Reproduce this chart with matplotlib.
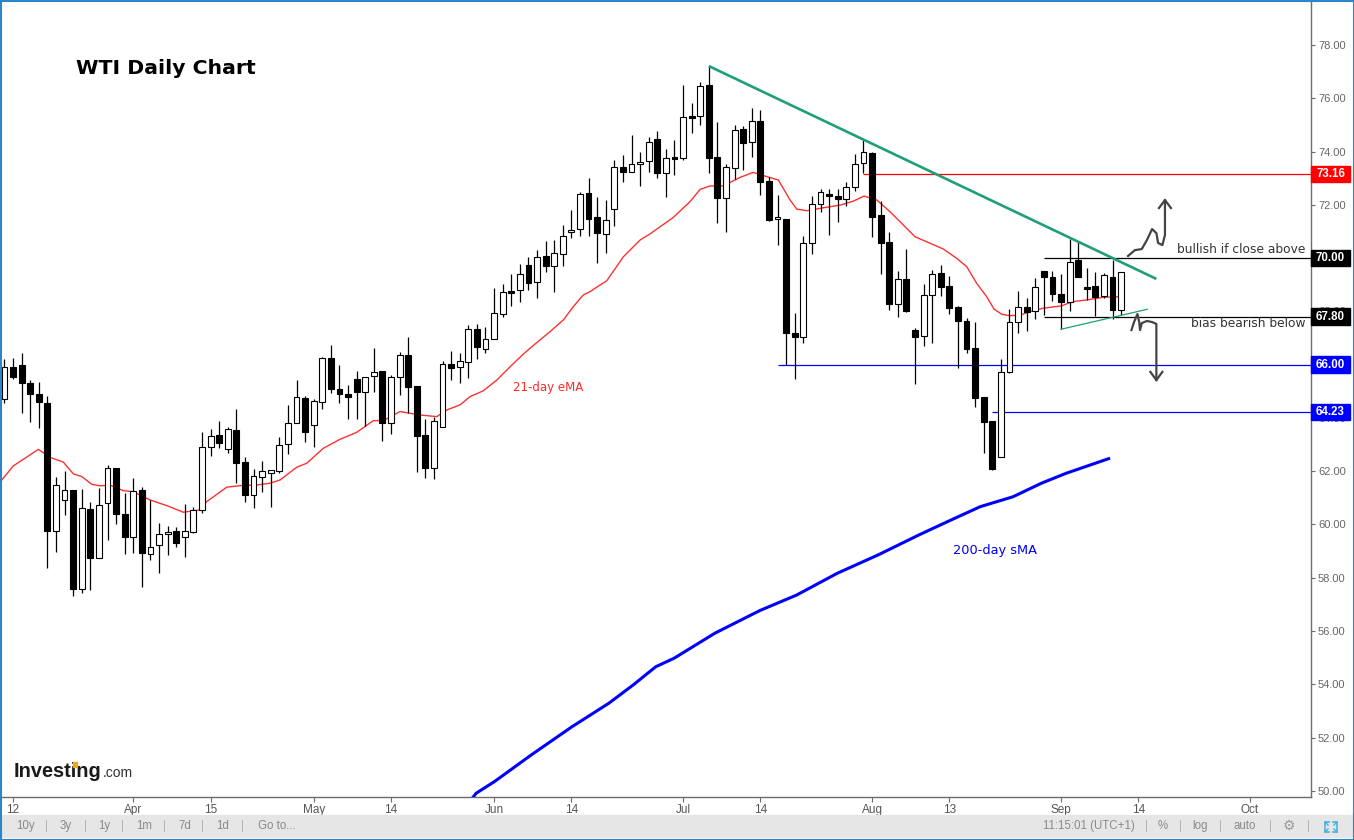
import numpy as np
import pandas as pd
import matplotlib
matplotlib.use("Agg")
import matplotlib.pyplot as plt
from matplotlib.patches import Rectangle
from matplotlib.lines import Line2D

# ---------------- data ----------------
opens = [64.71, 65.90, 65.99, 65.33, 64.90, 64.57, 59.75, 60.91, 61.29, 57.57,
         60.58, 58.76, 60.80, 62.11, 60.38, 59.54, 61.28, 58.88, 59.23, 59.63,
         59.76, 59.54, 59.73, 60.55, 62.90, 63.35, 62.82, 63.55, 62.34, 61.10,
         61.77, 61.92, 62.00, 63.01, 63.80, 64.74, 63.73, 64.59, 66.24, 65.08,
         64.90, 65.46, 64.96, 65.56, 65.75, 63.82, 65.55, 66.36, 65.20, 63.36,
         62.11, 63.65, 66.02, 65.93, 66.11, 67.33, 66.58, 66.95, 67.89, 68.74,
         68.79, 69.73, 69.12, 70.08, 69.72, 70.14, 70.97, 71.08, 72.43, 71.56,
         70.89, 71.83, 73.41, 73.22, 73.52, 73.65, 74.46, 73.18, 73.78, 73.77,
         75.32, 75.35, 76.50, 73.78, 72.27, 73.37, 74.85, 74.35, 75.15, 72.90,
         71.46, 71.46, 67.18, 67.05, 70.56, 72.02, 72.41, 72.33, 72.23, 72.66,
         73.56, 73.94, 71.62, 70.59, 68.27, 69.21, 67.30, 67.09, 68.61, 69.43,
         68.95, 68.15, 67.64, 66.62, 64.78, 63.89, 62.52, 65.74, 67.59, 68.16,
         68.03, 69.53, 69.30, 68.65, 68.34, 69.93, 68.91, 68.95, 68.58, 69.30,
         68.05]
highs = [66.21, 66.24, 66.43, 65.43, 65.34, 64.83, 61.77, 62.01, 61.29, 61.33,
         60.83, 61.38, 62.24, 62.11, 61.17, 61.73, 61.42, 60.92, 60.05, 59.95,
         59.92, 60.77, 60.65, 63.46, 63.59, 63.89, 63.65, 64.34, 62.55, 62.09,
         62.39, 62.05, 63.29, 64.49, 65.43, 64.83, 64.70, 66.30, 66.74, 65.99,
         65.24, 65.76, 65.55, 66.64, 65.77, 65.61, 66.47, 67.03, 65.20, 63.95,
         64.05, 66.14, 66.51, 66.45, 67.49, 67.53, 67.40, 68.87, 69.02, 69.40,
         69.78, 70.03, 70.31, 70.64, 70.68, 71.24, 71.81, 72.49, 73.00, 72.31,
         72.18, 73.68, 73.87, 74.62, 74.00, 74.54, 74.77, 74.10, 74.43, 76.50,
         75.81, 76.60, 77.21, 75.12, 73.52, 75.00, 74.97, 75.65, 75.56, 73.06,
         72.37, 71.46, 67.95, 70.83, 72.34, 72.58, 72.58, 72.58, 72.87, 73.91,
         74.46, 74.00, 72.14, 70.97, 69.52, 70.34, 67.37, 69.02, 69.55, 69.74,
         69.33, 68.20, 67.74, 67.60, 64.78, 63.89, 66.20, 68.08, 68.77, 68.50,
         69.27, 69.53, 69.52, 69.39, 70.72, 70.65, 69.62, 69.49, 69.45, 69.93,
         69.49]
lows = [64.56, 65.45, 64.20, 63.86, 63.64, 58.38, 58.98, 60.36, 57.30, 57.44,
        57.54, 58.73, 59.42, 60.01, 58.88, 58.92, 57.67, 58.67, 58.17, 58.86,
        59.17, 58.79, 59.69, 60.45, 62.57, 62.86, 62.67, 61.55, 60.86, 60.61,
        61.23, 60.67, 61.92, 62.65, 63.80, 63.11, 62.92, 64.33, 64.93, 64.55,
        63.95, 63.96, 63.71, 64.99, 63.14, 63.39, 64.86, 64.18, 61.98, 61.74,
        61.70, 63.65, 65.43, 65.30, 65.51, 66.20, 66.45, 66.95, 67.80, 68.21,
        68.36, 68.80, 68.52, 69.49, 68.74, 69.72, 70.77, 70.84, 70.84, 69.83,
        70.20, 71.22, 72.87, 73.22, 72.72, 73.24, 73.00, 72.31, 73.12, 73.68,
        74.71, 75.00, 73.21, 71.33, 70.99, 72.96, 73.31, 73.81, 72.37, 71.39,
        70.49, 65.98, 65.45, 66.83, 70.15, 71.74, 70.87, 71.37, 71.96, 72.52,
        73.18, 70.80, 69.40, 68.05, 67.80, 67.99, 65.28, 66.71, 66.83, 68.58,
        67.90, 65.87, 66.43, 64.42, 62.67, 62.05, 62.52, 65.68, 67.18, 67.28,
        67.72, 67.87, 68.39, 67.33, 68.03, 69.28, 68.43, 67.83, 68.49, 67.72,
        67.87]
closes = [65.91, 65.55, 65.33, 64.89, 64.59, 59.77, 61.47, 61.28, 57.57, 60.61,
          58.76, 60.72, 62.11, 60.38, 59.54, 61.27, 58.92, 59.17, 59.63, 59.73,
          59.32, 59.77, 60.55, 62.90, 63.33, 63.07, 63.58, 62.30, 61.10, 61.82,
          62.00, 62.05, 62.97, 63.80, 64.78, 63.46, 64.64, 66.24, 65.10, 64.89,
          64.80, 64.96, 65.53, 65.71, 63.82, 65.53, 66.36, 65.17, 63.33, 62.11,
          63.89, 66.02, 65.89, 66.14, 67.33, 66.65, 66.95, 67.93, 68.74, 68.70,
          69.39, 69.08, 70.03, 69.72, 70.18, 70.82, 71.06, 72.40, 71.47, 70.93,
          71.42, 73.43, 73.22, 73.52, 73.60, 74.35, 73.18, 73.75, 73.73, 75.29,
          75.27, 76.45, 73.77, 72.27, 73.41, 74.81, 74.33, 75.15, 72.87, 71.43,
          71.53, 67.20, 67.05, 70.56, 72.02, 72.47, 72.34, 72.23, 72.66, 73.52,
          73.97, 71.56, 70.58, 68.27, 69.21, 68.02, 67.05, 68.62, 69.40, 68.93,
          68.12, 67.65, 66.60, 64.74, 63.86, 62.07, 65.74, 67.61, 68.18, 67.99,
          68.91, 69.30, 68.64, 68.36, 69.87, 69.28, 68.84, 68.55, 69.36, 68.05,
          69.49]

# 21-day EMA (bar index, price)
ema_x = [-0.31, 1.04, 3.95, 5.31, 6.86, 8.02, 9.0, 10.16, 11.13, 12.29, 13.84, 15.0,
         16.95, 18.89, 20.83, 22.77, 23.55, 25.88, 27.43, 29.37, 30.92, 32.08, 34.03,
         35.19, 37.12, 39.07, 41.01, 42.95, 44.11, 46.05, 48.38, 50.33, 51.49, 53.04,
         54.2, 55.75, 57.31, 58.86, 60.41, 61.97, 63.52, 65.07, 66.23, 67.39, 68.17,
         69.33, 70.12, 72.05, 74.0, 75.16, 77.87, 79.81, 80.98, 82.14, 83.69, 85.63,
         87.18, 88.74, 90.1, 91.46, 92.24, 93.41, 95.33, 97.28, 98.83, 100.07, 101.55,
         103.1, 104.65, 106.01, 107.75, 109.3, 110.86, 112.02, 113.19, 114.35, 115.2,
         116.1, 117.07, 118.23, 119.39, 120.94, 123.08, 124.25, 126.38, 127.93, 129.67]
ema_y = [61.67, 62.20, 62.82, 62.52, 62.34, 61.90, 61.80, 61.51, 61.45, 61.48, 61.27, 61.23,
         60.92, 60.71, 60.46, 60.55, 60.86, 61.40, 61.46, 61.48, 61.55, 61.67, 62.15,
         62.30, 62.86, 63.20, 63.46, 63.90, 63.90, 64.24, 64.11, 64.05, 64.30, 64.49,
         64.80, 65.02, 65.42, 65.92, 66.40, 66.83, 67.24, 67.68, 68.18, 68.62, 68.74,
         68.99, 69.15, 70.05, 70.68, 70.91, 71.53, 72.12, 72.58, 72.71, 72.71, 73.03,
         73.22, 73.06, 72.93, 72.18, 71.84, 71.78, 71.89, 71.99, 72.14, 72.33, 72.18,
         71.74, 71.24, 70.80, 70.56, 70.34, 69.99, 69.68, 69.05, 68.55, 68.09,
         67.89, 67.84, 67.86, 67.99, 68.12, 68.21, 68.36, 68.45, 68.53, 68.55]

# 200-day SMA
sma_x = [54.4, 54.91, 57.05, 61.33, 66.08, 70.36, 73.21, 75.82, 77.96, 82.71, 87.94, 92.21,
         96.96, 101.72, 106.47, 109.80, 113.60, 117.40, 120.72, 123.57, 128.71]
sma_y = [49.70, 49.91, 50.35, 51.35, 52.41, 53.29, 53.98, 54.66, 54.98, 55.92, 56.77, 57.35,
         58.17, 58.86, 59.61, 60.11, 60.67, 61.04, 61.55, 61.92, 62.49]

tick_dates = ["2021-03-12", "2021-04-01", "2021-04-15", "2021-05-03", "2021-05-14",
              "2021-06-01", "2021-06-14", "2021-07-01", "2021-07-14", "2021-08-02",
              "2021-08-13", "2021-09-01", "2021-09-14", "2021-10-01"]
tick_labels = ["12", "Apr", "15", "May", "14", "Jun", "14", "Jul", "14", "Aug",
               "13", "Sep", "14", "Oct"]

level_values = [73.16, 70.00, 67.80, 66.00, 64.23]
level_colors = ["#ff0000", "#000000", "#000000", "#0000ff", "#0000ff"]
level_start = [100, 121, 121, 90, 115]

trend_x = [82.0, 134.1]
trend_y = [77.21, 69.22]
lower_x = [123.0, 133.05]
lower_y = [67.33, 68.08]

up_arrow_x = [130.8, 131.6, 132.4, 133.0, 133.6, 134.1, 134.3, 134.8, 135.1, 135.1]
up_arrow_y = [70.08, 70.30, 70.34, 70.68, 71.09, 70.94, 70.57, 70.49, 70.87, 72.18]
dn_arrow_x = [131.2, 131.5, 131.9, 132.1, 132.2, 132.4, 133.0, 133.6, 134.1, 134.1]
dn_arrow_y = [67.30, 67.60, 67.90, 67.60, 67.30, 67.56, 67.64, 67.60, 67.53, 65.42]

# ---------------- axis dates ----------------
all_dates = pd.bdate_range("2021-03-11", "2021-10-15")
all_dates = all_dates[all_dates != pd.Timestamp("2021-04-02")]
pos = {d: i for i, d in enumerate(all_dates)}
tick_pos = [pos[pd.Timestamp(d)] for d in tick_dates]

W, H = 1354, 840
fig = plt.figure(figsize=(W / 100, H / 100), dpi=100)
fig.patch.set_facecolor("white")
ax = fig.add_axes([1 / W, 43 / H, 1310 / W, 797 / H])
ax.set_xlim(-0.40, 152.1)
ax.set_ylim(49.77, 79.69)

for s in ["left", "top"]:
    ax.spines[s].set_visible(False)
for s in ["right", "bottom"]:
    ax.spines[s].set_color("#6d6d6d")
    ax.spines[s].set_linewidth(1.0)

ax.yaxis.tick_right()
ax.set_yticks(np.arange(50, 79, 2))
ax.set_yticklabels([f"{v:.2f}" for v in np.arange(50, 79, 2)])
ax.tick_params(axis="y", direction="out", length=3, width=0.8, color="#6d6d6d",
               labelsize=8, labelcolor="#666666", pad=2)
ax.set_xticks(tick_pos)
ax.set_xticklabels(tick_labels)
ax.tick_params(axis="x", direction="out", length=3.5, width=0.8, color="#6d6d6d",
               labelsize=8.5, labelcolor="#555555", pad=1.5)
for lab in ax.get_xticklabels() + ax.get_yticklabels():
    lab.set_fontfamily("Liberation Sans")

# ---------------- candles ----------------
n = len(closes)
xs = np.arange(n)
o = np.array(opens); c = np.array(closes); h = np.array(highs); l = np.array(lows)
ax.vlines(xs, l, h, color="black", lw=0.9, zorder=3)
bottoms = np.minimum(o, c)
heights = np.maximum(np.abs(c - o), 0.05)
faces = ["white" if cc >= oo else "black" for oo, cc in zip(o, c)]
ax.bar(xs, heights, bottom=bottoms, width=0.68, color=faces, edgecolor="black",
       linewidth=0.8, zorder=4)

# ---------------- moving averages ----------------
ax.plot(ema_x, ema_y, color="#ff3030", lw=1.0, zorder=2.6)
ax.plot(sma_x, sma_y, color="#0000ff", lw=2.2, zorder=2.6, solid_capstyle="butt",
        solid_joinstyle="round")

# ---------------- levels ----------------
for v, col, st in zip(level_values, level_colors, level_start):
    ax.hlines(v, st, 152.1, color=col, lw=0.9, zorder=2.5)
    tr = ax.get_yaxis_transform()
    ax.add_patch(Rectangle((1.0, v - 0.31), 0.0298, 0.62, transform=tr, color=col,
                           clip_on=False, zorder=6))
    ax.text(1.0149, v, f"{v:.2f}", transform=tr, ha="center", va="center",
            color="white", fontsize=8.3, fontweight="bold", family="Liberation Sans",
            clip_on=False, zorder=7)

# ---------------- trend lines ----------------
ax.plot(trend_x, trend_y, color="#1f9e7a", lw=1.9, zorder=5, solid_capstyle="butt")
ax.plot(lower_x, lower_y, color="#1f9e7a", lw=0.9, zorder=5)

# ---------------- hand drawn arrows ----------------
ax.plot(up_arrow_x, up_arrow_y, color="#444444", lw=1.6, zorder=5)
ax.plot([134.4, 135.1, 135.8], [71.88, 72.18, 71.88], color="#444444", lw=1.6, zorder=5)
ax.plot(dn_arrow_x, dn_arrow_y, color="#444444", lw=1.6, zorder=5)
ax.plot([133.4, 134.1, 134.8], [65.73, 65.42, 65.73], color="#444444", lw=1.6, zorder=5)

# ---------------- texts ----------------
ax.text(151.5, 70.34, "bullish if close above", ha="right", va="center",
        fontsize=8.8, color="#333333", zorder=6)
ax.text(151.5, 67.53, "bias bearish below", ha="right", va="center",
        fontsize=8.8, color="#333333", zorder=6)
ax.text(63.28, 65.16, "21-day eMA", ha="center", va="center", fontsize=8.5,
        color="#ff2a2a", zorder=6)
ax.text(115.3, 59.01, "200-day sMA", ha="center", va="center", fontsize=9.3,
        color="#0000ee", zorder=6)

fig.text(76 / W, 1 - 69 / H, "WTI Daily Chart", ha="left", va="center",
         fontsize=14.7, fontweight="bold", color="black")
fig.text(14 / W, 1 - 777 / H, "Investing", ha="left", va="baseline",
         fontsize=14.4, fontweight="bold", color="#1a1a1a", family="Liberation Sans")
fig.text(103 / W, 1 - 777 / H, ".com", ha="left", va="baseline",
         fontsize=10, color="#333333", family="Liberation Sans")

# ---------------- bottom toolbar ----------------
fig.patches.append(Rectangle((1 / W, 3 / H), 1352 / W, 22 / H, transform=fig.transFigure,
                             color="#e6e6e6", zorder=0))
ty = 1 - 826 / H
left_items = [("10y", 25), ("3y", 66), ("1y", 104), ("1m", 144), ("7d", 185), ("1d", 223)]
for txt, px in left_items:
    fig.text(px / W, ty, txt, ha="center", va="center", fontsize=8.3, color="#8a8a8a",
             family="Liberation Sans")
fig.text(258 / W, ty, "Go to...", ha="left", va="center", fontsize=8.3, color="#8a8a8a",
         family="Liberation Sans")
for px in [46, 85, 123, 165, 203, 242, 1147, 1180, 1221, 1270, 1309]:
    fig.text(px / W, ty, "|", ha="center", va="center", fontsize=8.5, color="#b5b5b5",
             family="Liberation Sans")
fig.text(1089 / W, ty, "11:15:01 (UTC+1)", ha="center", va="center", fontsize=8.3,
         color="#8a8a8a", family="Liberation Sans")
fig.text(1163 / W, ty, "%", ha="center", va="center", fontsize=8.3, color="#8a8a8a",
         family="Liberation Sans")
fig.text(1200 / W, ty, "log", ha="center", va="center", fontsize=8.3, color="#8a8a8a",
         family="Liberation Sans")
fig.text(1245 / W, ty, "auto", ha="center", va="center", fontsize=8.3, color="#8a8a8a",
         family="Liberation Sans")
fig.text(1289 / W, ty, "\u2699", ha="center", va="center", fontsize=10, color="#9a9a9a",
         family="DejaVu Sans")

# fullscreen icon (no installed font has the glyph): four small corner marks
cx, cy = 1331, 827
for sx in (-1, 1):
    for sy in (-1, 1):
        px0, py0 = cx + sx * 6, cy + sy * 5
        xs_ = [px0 - sx * 4, px0, px0]
        ys_ = [py0, py0, py0 - sy * 4]
        fig.lines.append(Line2D([v / W for v in xs_], [1 - v / H for v in ys_],
                                transform=fig.transFigure, color="#45b0e5", lw=1.2))
        fig.lines.append(Line2D([px0 / W, (px0 - sx * 3) / W],
                                [1 - py0 / H, 1 - (py0 - sy * 3) / H],
                                transform=fig.transFigure, color="#45b0e5", lw=1.0))

# orange accent on the logo's "i"
fig.patches.append(Rectangle((72.6 / W, 1 - 767 / H), 4.6 / W, 4.6 / H,
                             transform=fig.transFigure, color="#f4a522", zorder=5))

# outer frame
fig.patches.append(Rectangle((0.5 / W, 0.5 / H), 1 - 1 / W, 1 - 1 / H,
                             transform=fig.transFigure, fill=False,
                             edgecolor="#2a86c8", lw=1.5, zorder=10))

fig.savefig("out.png", dpi=100)
